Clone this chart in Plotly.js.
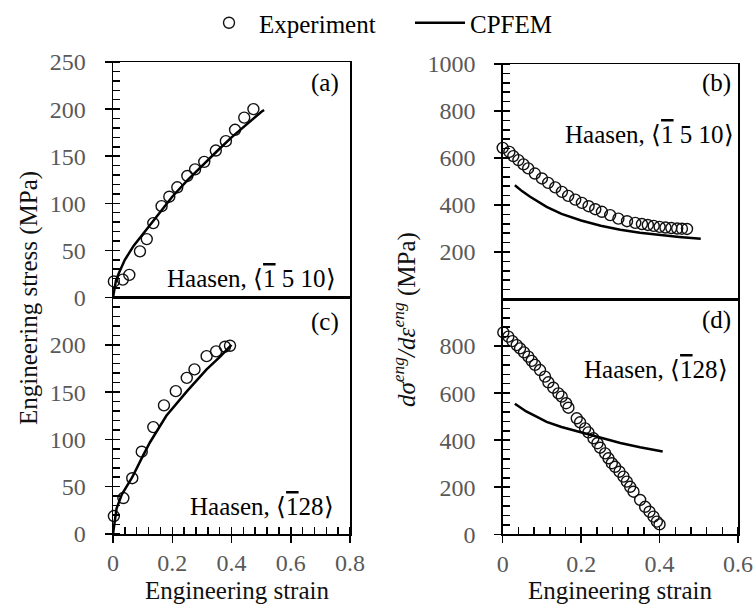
<!DOCTYPE html>
<html><head><meta charset="utf-8">
<script src="https://cdn.plot.ly/plotly-3.0.1.min.js"></script>
<style>body{margin:0;padding:0;background:#fff;}#chart{width:756px;height:608px;}</style>
</head><body><div id="chart"></div>
<script>
// ---- data ----
const legendNames = ["Experiment", "CPFEM"];
const panelLabels = ["(a)", "(b)", "(c)", "(d)"];
const bar1 = '<span style="text-decoration:overline">1</span>';
const orientLabels = ["Haasen, \u27E8" + bar1 + " 5 10\u27E9", "Haasen, \u27E8" + bar1 + " 5 10\u27E9", "Haasen, \u27E8" + bar1 + "28\u27E9", "Haasen, \u27E8" + bar1 + "28\u27E9"];
const xTitle = "Engineering strain";
const yTitleLeft = "Engineering stress (MPa)";
const yTitleRight = "<i>d\u03C3</i><sup><i>eng</i></sup><i>/d\u03B5</i><sup><i>eng</i></sup> (MPa)";

// (a) stress-strain, <-1 5 10>
const aExpStrain = [0.003,0.033,0.055,0.091,0.114,0.136,0.164,0.19,0.217,0.251,0.277,0.308,0.347,0.381,0.412,0.443,0.474];
const aExpStress = [17,19,24,49,62,79,97,107,117,129,136,144,156,166,178,191,200];
const aSimStrain = [0,0.005,0.01,0.02,0.04,0.07,0.1,0.15,0.2,0.25,0.3,0.35,0.4,0.45,0.5,0.51];
const aSimStress = [0,12,18,26,40,55,67,88,107,124,140,155,170,184,197,199];

// (b) hardening rate, <-1 5 10>
const bExpStrain = [0,0.017,0.027,0.04,0.053,0.065,0.082,0.1,0.116,0.134,0.151,0.167,0.185,0.202,0.219,0.236,0.253,0.274,0.295,0.317,0.338,0.355,0.37,0.385,0.4,0.415,0.43,0.445,0.457,0.47];
const bExpRate = [643,626,608,591,573,556,534,513,494,475,456,439,423,409,395,382,371,357,342,331,324,319,315,311,307,304,302,300,299,298];
const bSimStrain = [0.031,0.05,0.07,0.09,0.112,0.15,0.2,0.25,0.3,0.35,0.4,0.45,0.505];
const bSimRate = [484,458,435,413,392,362,334,312,295,282,272,264,256];

// (c) stress-strain, <-1 2 8>
const cExpStrain = [0.003,0.035,0.065,0.097,0.136,0.172,0.212,0.249,0.275,0.316,0.348,0.378,0.395];
const cExpStress = [19,38,59,87,113,136,151,165,174,188,193,198,199];
const cSimStrain = [0,0.005,0.012,0.03,0.065,0.1,0.125,0.18,0.25,0.316,0.36,0.4];
const cSimStress = [0,14,27,42,60,82,97,125,151,174,187,200];

// (d) hardening rate, <-1 2 8>
const dExpStrain = [0.0016,0.0144,0.0246,0.0357,0.0442,0.0544,0.0654,0.074,0.0825,0.0952,0.108,0.1165,0.129,0.142,0.1505,0.1616,0.1676,0.1888,0.1973,0.2101,0.2186,0.2314,0.2416,0.2484,0.2612,0.2697,0.2782,0.2867,0.2978,0.308,0.3165,0.325,0.3335,0.3505,0.3633,0.3743,0.3846,0.3931,0.3999];
const dExpRate = [858,840,821,804,790,773,755,737,720,698,670,646,623,599,585,557,538,493,476,450,433,408,387,368,344,323,302,287,266,245,224,202,181,146,117,96,75,54,42];
const dSimStrain = [0.031,0.06,0.09,0.112,0.15,0.2,0.25,0.3,0.35,0.408];
const dSimRate = [555,522,497,478,456,433,409,388,370,352];

// ---- styling ----
const W = 756, H = 608;
const px = v => v / W;
const py = v => 1 - v / H;
const serif = "Liberation Serif";
const tickFont = {family: serif, size: 24, color: "#595959"};
const markerStyle = {symbol: "circle-open", size: 11, color: "#111", line: {width: 1.4, color: "#111"}};
const lineStyle = {color: "#000", width: 2.5};

function expTrace(x, y, xa, ya, show) {
  return {x: x, y: y, xaxis: xa, yaxis: ya, type: "scatter", mode: "markers", name: legendNames[0],
    legendgroup: "exp", showlegend: show, marker: markerStyle, cliponaxis: false, hoverinfo: "x+y"};
}
function simTrace(x, y, xa, ya, show) {
  return {x: x, y: y, xaxis: xa, yaxis: ya, type: "scatter", mode: "lines", name: legendNames[1],
    legendgroup: "sim", showlegend: show, line: lineStyle, cliponaxis: false, hoverinfo: "x+y"};
}

const data = [
  expTrace(aExpStrain, aExpStress, "x", "y", true),
  simTrace(aSimStrain, aSimStress, "x", "y", true),
  expTrace(bExpStrain, bExpRate, "x2", "y2", false),
  simTrace(bSimStrain, bSimRate, "x2", "y2", false),
  expTrace(cExpStrain, cExpStress, "x3", "y3", false),
  simTrace(cSimStrain, cSimStress, "x3", "y3", false),
  expTrace(dExpStrain, dExpRate, "x4", "y4", false),
  simTrace(dSimStrain, dSimRate, "x4", "y4", false)
];

const leftX = [px(113), px(350)];
const rightX = [px(502.7), px(738)];
const aY = [py(297.5), py(62)];
const cY = [py(534), py(297.5)];
const bY = [py(299), py(64)];
const dY = [py(534.3), py(299)];

function yAxis(domain, anchor, range, vals, minorD) {
  return {domain: domain, anchor: anchor, range: range, tickmode: "array", tickvals: vals,
    showline: true, linecolor: "#000", linewidth: 1.5, mirror: true,
    ticks: "outside", ticklen: 7, tickwidth: 1.5, tickcolor: "#000",
    minor: {ticks: "inside", ticklen: 7, tickwidth: 1.5, tickcolor: "#000", tickmode: "linear", tick0: 0, dtick: minorD, showgrid: false},
    showgrid: false, zeroline: false, tickfont: tickFont, ticklabelstandoff: 14, fixedrange: true};
}
function xTop(domain, anchor, range) {
  return {domain: domain, anchor: anchor, range: range, showline: true, linecolor: "#000", linewidth: 1.5, mirror: true,
    ticks: "", showticklabels: false, showgrid: false, zeroline: false, fixedrange: true};
}
function xBottom(domain, anchor, range, vals) {
  return {domain: domain, anchor: anchor, range: range, tickmode: "array", tickvals: vals,
    showline: true, linecolor: "#000", linewidth: 1.5, mirror: true,
    ticks: "outside", ticklen: 7, tickwidth: 1.5, tickcolor: "#000",
    minor: {ticks: "inside", ticklen: 7, tickwidth: 1.5, tickcolor: "#000", tickmode: "linear", tick0: 0, dtick: 0.04, showgrid: false},
    showgrid: false, zeroline: false, tickfont: tickFont, ticklabelstandoff: 0, fixedrange: true};
}

const annFont = {family: serif, size: 25, color: "#000"};
function ann(text, x, y, xanchor, extra) {
  return Object.assign({text: text, xref: "paper", yref: "paper", x: px(x), y: py(y), xanchor: xanchor, yanchor: "middle",
    showarrow: false, font: annFont}, extra || {});
}
const titleFont = {family: serif, size: 25, color: "#111"};

const annotations = [
  ann(panelLabels[0], 341, 83, "right"),
  ann(panelLabels[1], 733, 83, "right"),
  ann(panelLabels[2], 341, 322, "right"),
  ann(panelLabels[3], 733, 320, "right"),
  ann(orientLabels[0], 165, 278, "left"),
  ann(orientLabels[1], 563, 134, "left"),
  ann(orientLabels[2], 188, 506, "left"),
  ann(orientLabels[3], 582, 369, "left"),
  ann(xTitle, 237, 590, "center", {font: titleFont}),
  ann(xTitle, 620, 590, "center", {font: titleFont}),
  ann(yTitleLeft, 29, 298, "center", {textangle: -90, font: titleFont}),
  ann(yTitleRight, 404, 320, "center", {textangle: -90, font: titleFont})
];

const layout = {
  width: W, height: H,
  margin: {l: 0, r: 0, t: 0, b: 0},
  font: {family: serif, size: 24, color: "#000"},
  paper_bgcolor: "#fff", plot_bgcolor: "#fff",
  showlegend: true,
  legend: {orientation: "h", x: px(199), xanchor: "left", y: 1, yanchor: "top",
    font: {family: serif, size: 25, color: "#000"}, itemwidth: 50, entrywidth: 146, bgcolor: "rgba(0,0,0,0)"},
  xaxis: xTop(leftX, "y", [0, 0.8]),
  yaxis: yAxis(aY, "x", [0, 250], [0, 50, 100, 150, 200, 250], 10),
  xaxis2: xTop(rightX, "y2", [0, 0.6]),
  yaxis2: yAxis(bY, "x2", [0, 1000], [200, 400, 600, 800, 1000], 40),
  xaxis3: xBottom(leftX, "y3", [0, 0.8], [0, 0.2, 0.4, 0.6, 0.8]),
  yaxis3: yAxis(cY, "x3", [0, 250], [0, 50, 100, 150, 200], 10),
  xaxis4: xBottom(rightX, "y4", [0, 0.6], [0, 0.2, 0.4, 0.6]),
  yaxis4: yAxis(dY, "x4", [0, 1000], [0, 200, 400, 600, 800], 40),
  annotations: annotations
};

Plotly.newPlot("chart", data, layout, {displayModeBar: false, staticPlot: true});
</script>
</body></html>
